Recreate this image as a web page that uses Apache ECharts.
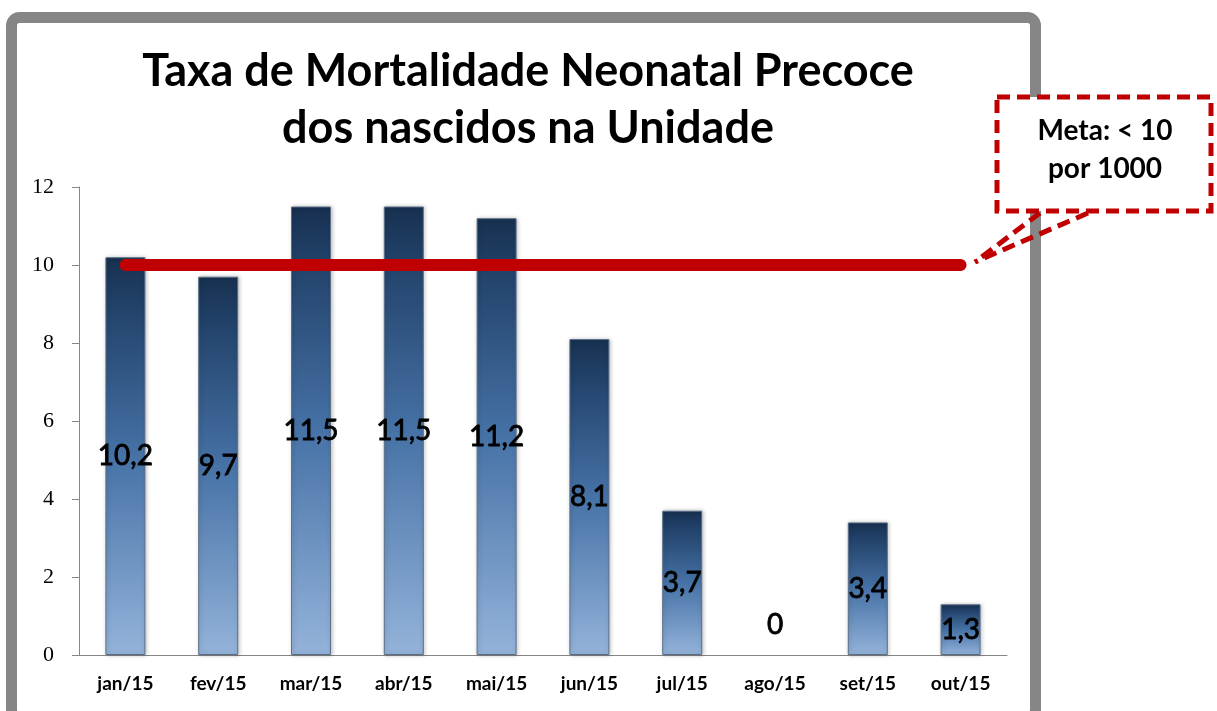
<!DOCTYPE html>
<html><head><meta charset="utf-8">
<script src="https://cdn.jsdelivr.net/npm/echarts@6/dist/echarts.min.js"></script>
<style>html,body{margin:0;padding:0;background:#fff}#c{width:1217px;height:711px}</style>
</head><body><div id="c"></div>
<script>
const categories = ['jan/15','fev/15','mar/15','abr/15','mai/15','jun/15','jul/15','ago/15','set/15','out/15'];
const taxa = [10.2, 9.7, 11.5, 11.5, 11.2, 8.1, 3.7, 0, 3.4, 1.3];
const meta = 10;
const titleLines = ['Taxa de Mortalidade Neonatal Precoce', 'dos nascidos na Unidade'];
const calloutLines = ['Meta: < 10', 'por 1000'];

const FONT = 'Lato, "Open Sans", sans-serif';
const chart = echarts.init(document.getElementById('c'), null, {renderer:'canvas'});

const barGrad = new echarts.graphic.LinearGradient(0,0,0,1,[
  {offset:0, color:'#17304f'},
  {offset:0.1, color:'#203f66'},
  {offset:0.5, color:'#4672a6'},
  {offset:1, color:'#94b3da'}
]);

chart.setOption({
  animation:false,
  title:{
    text: titleLines.join('\n'),
    left: 523, top: 38, textAlign:'center',
    textStyle:{fontFamily:FONT, fontWeight:'bold', fontSize:45, lineHeight:57, color:'#000'}
  },
  grid:{left:79, right:210, top:187, bottom:56},
  xAxis:{
    type:'category', data:categories,
    axisLine:{lineStyle:{color:'#868686', width:1}},
    axisTick:{show:false},
    axisLabel:{fontFamily:FONT, fontWeight:'bold', fontSize:19, color:'#000', margin:19}
  },
  yAxis:{
    type:'value', min:0, max:12, interval:2,
    axisLine:{show:true, lineStyle:{color:'#868686', width:1}},
    axisTick:{show:true, inside:false, length:7, lineStyle:{color:'#868686'}},
    splitLine:{show:false},
    axisLabel:{fontFamily:'"Liberation Serif", "DejaVu Serif", serif', fontSize:22, color:'#000', margin:25}
  },
  series:[
    {
      type:'bar', barWidth:40,
      data: taxa.map(v => v === 0 ? {value:v, itemStyle:{borderWidth:0, shadowBlur:0}, label:{offset:[0,-30]}} : v),
      itemStyle:{color:barGrad, borderColor:'#5a6f89', borderWidth:1,
        shadowColor:'rgba(0,0,0,0.25)', shadowBlur:4, shadowOffsetX:1, shadowOffsetY:0},
      label:{show:true, position:'inside', fontFamily:FONT, fontSize:28, color:'#000',
        textBorderColor:'#000', textBorderWidth:0.8,
        formatter: p => String(p.value).replace('.', ',')}
    },
    {
      type:'line', data: categories.map(() => meta), symbol:'none',
      lineStyle:{color:'#c00000', width:12, cap:'round'}, z:5
    }
  ],
  graphic:[
    {type:'rect', shape:{x:11.5, y:17.5, width:1024, height:700, r:8},
     style:{fill:'none', stroke:'#868686', lineWidth:11}, z:-1, silent:true},
    {type:'line', shape:{x1:1040, y1:213, x2:975, y2:262},
     style:{stroke:'#c00000', lineWidth:5, lineDash:[13,7]}, z:10},
    {type:'line', shape:{x1:1088, y1:213, x2:975, y2:262},
     style:{stroke:'#c00000', lineWidth:5, lineDash:[13,7]}, z:10},
    {type:'rect', shape:{x:997, y:97, width:214, height:114},
     style:{fill:'#fff', stroke:'#c00000', lineWidth:5, lineDash:[13,7]}, z:11},
    {type:'text', x:1105, y:150, z:12,
     style:{text:calloutLines.join('\n'), fontFamily:FONT, fontWeight:'bold', fontSize:28,
       lineHeight:38, fill:'#000', align:'center', verticalAlign:'middle'}}
  ]
});
</script></body></html>
